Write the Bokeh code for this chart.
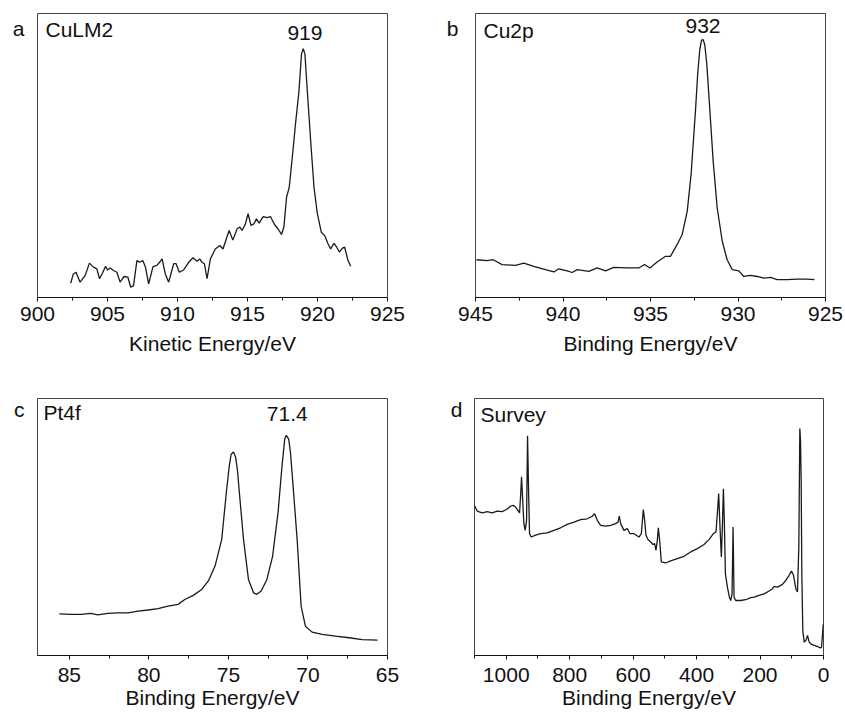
from bokeh.plotting import figure
from bokeh.models import Range1d, FixedTicker, Label, LinearAxis
from bokeh.layouts import column, row
from bokeh.embed import file_html
from bokeh.resources import INLINE

FONT = "Liberation Sans"
FS = "21px"

# ---------------- data ----------------
# (a) CuLM2, kinetic energy (eV) vs intensity (a.u.)
a_x = [902.37, 902.56, 902.75, 903.04, 903.4, 903.71, 904.0, 904.24, 904.43, 904.67, 904.86, 905.0,
       905.19, 905.43, 905.67, 905.9, 906.19, 906.45, 906.66, 906.86, 907.1, 907.29, 907.52, 907.71,
       907.94, 908.25, 908.53, 908.72, 908.9, 909.13, 909.37, 909.73, 909.9, 910.13, 910.44, 910.8,
       911.11, 911.4, 911.59, 911.75, 911.92, 912.11, 912.35, 912.7, 913.02, 913.25, 913.49, 913.69,
       913.95, 914.26, 914.45, 914.61, 914.85, 915.04, 915.25, 915.45, 915.64, 915.83, 916.12, 916.41,
       916.64, 916.93, 917.17, 917.43, 917.6, 917.79, 917.98, 918.2, 918.43, 918.67, 918.86, 918.98,
       919.1, 919.27, 919.51, 919.75, 919.99, 920.27, 920.51, 920.75, 920.94, 921.18, 921.37, 921.56,
       921.78, 921.94, 922.18, 922.37]
a_y = [5.0, 8.3, 8.9, 5.4, 7.7, 12.1, 10.7, 10.1, 6.6, 8.9, 11.0, 9.7,
       10.4, 9.5, 8.9, 5.4, 7.4, 7.2, 3.6, 4.2, 13.0, 12.4, 13.0, 10.7,
       4.8, 10.9, 11.3, 12.4, 13.6, 8.3, 5.4, 11.9, 11.9, 8.9, 9.7, 12.4,
       14.0, 12.8, 13.6, 12.4, 11.9, 6.6, 13.6, 17.1, 18.3, 17.1, 20.7, 23.6,
       20.2, 24.2, 24.8, 23.6, 25.9, 29.5, 25.4, 25.9, 27.7, 26.2, 28.5, 28.1,
       28.5, 25.7, 24.2, 22.2, 24.8, 35.3, 38.8, 49.4, 61.2, 72.3, 85.8, 87.6,
       85.8, 72.9, 55.3, 38.8, 29.5, 23.0, 21.8, 18.9, 17.1, 19.1, 17.7, 16.0,
       17.4, 17.7, 13.0, 11.0]

# (b) Cu2p, binding energy (eV)
b_x = [944.94, 944.33, 943.99, 943.48, 942.71, 942.24, 941.67, 941.0, 940.52, 940.24, 939.76, 939.48,
       939.19, 938.52, 938.05, 937.57, 937.1, 936.33, 935.67, 935.34, 935.04, 934.62, 934.14, 933.86,
       933.48, 933.19, 932.9, 932.68, 932.43, 932.3, 932.18, 932.08, 931.99, 931.9, 931.78, 931.67,
       931.42, 931.19, 930.9, 930.62, 930.33, 929.95, 929.67, 929.29, 928.9, 928.52, 928.14, 927.76,
       927.19, 926.62, 926.05, 925.63]
b_y = [13.3, 13.0, 13.3, 11.6, 11.3, 12.1, 11.0, 9.8, 9.0, 10.1, 9.4, 8.8,
       9.8, 9.2, 10.4, 9.4, 10.6, 10.4, 10.4, 11.6, 10.4, 12.5, 14.5, 14.5,
       18.6, 22.2, 30.4, 43.4, 65.8, 79.0, 87.5, 90.6, 90.8, 89.0, 82.0, 71.7,
       48.1, 31.6, 19.8, 13.3, 9.8, 9.4, 7.4, 7.8, 7.4, 6.8, 7.1, 6.3,
       6.3, 6.5, 6.5, 6.3]

# (c) Pt4f, binding energy (eV)
c_x = [85.63, 84.89, 84.26, 83.67, 83.21, 82.58, 81.95, 81.32, 80.68, 80.05, 79.42, 78.79,
       78.16, 77.74, 77.21, 76.68, 76.26, 75.84, 75.42, 75.11, 74.95, 74.83, 74.68, 74.54, 74.42,
       74.33, 74.05, 73.74, 73.42, 73.21, 72.94, 72.58, 72.22, 71.88, 71.63, 71.52, 71.46, 71.36,
       71.21, 71.1, 71.0, 70.68, 70.43, 70.16, 69.74, 69.11, 68.26, 67.42, 66.58, 65.63]
c_y = [16.2, 16.0, 16.0, 16.4, 15.8, 16.4, 16.6, 16.6, 17.3, 17.7, 18.2, 19.2,
       19.9, 21.8, 23.4, 25.7, 29.0, 34.8, 45.2, 64.7, 73.5, 78.3, 79.2, 77.0, 71.5,
       64.7, 45.2, 29.6, 24.4, 23.8, 25.1, 29.6, 38.7, 55.6, 73.8, 80.5, 84.2, 85.7,
       84.2, 79.0, 71.2, 45.2, 19.2, 11.4, 9.1, 8.2, 7.5, 6.9, 6.2, 6.0]

# (d) Survey, binding energy (eV)
d_x = [1100, 1091.6, 1075.8, 1060.0, 1044.3, 1028.5, 1012.7, 999.0, 986.4, 978.0, 970.7, 963.3,
       958.0, 954.9, 951.7, 948.6, 944.4, 940.2, 935.9, 932.8, 929.6, 926.5, 921.2, 907.6,
       891.8, 870.8, 849.7, 828.7, 807.7, 786.6, 765.6, 744.6, 728.8, 721.4, 713.0, 702.5,
       686.7, 670.9, 655.2, 647.8, 643.6, 639.4, 628.9, 618.4, 610.0, 597.3, 581.6, 574.2,
       567.9, 563.7, 559.5, 553.2, 544.8, 537.4, 532.2, 528.0, 523.8, 520.6, 516.4, 511.2,
       497.5, 481.7, 460.7, 439.7, 418.7, 397.6, 376.6, 360.8, 347.2, 338.8, 334.6, 330.4,
       326.2, 322.0, 318.8, 315.5, 312.4, 309.2, 302.9, 296.6, 292.4, 288.2, 285.0, 281.9,
       276.6, 260.8, 245.0, 229.3, 218.8, 203.0, 187.2, 171.4, 160.9, 155.6, 145.1, 129.3,
       118.8, 108.3, 100.9, 94.6, 87.2, 82.0, 77.8, 74.6, 72.5, 70.4, 68.3, 65.2,
       60.9, 55.6, 50.4, 45.1, 37.7, 29.3, 18.8, 10.4, 6.2, 3.0, 0.9]
d_y = [58.4, 56.2, 55.5, 56.0, 55.5, 56.2, 56.0, 56.8, 58.1, 58.4, 57.8, 56.5,
       55.5, 61.7, 69.5, 61.7, 51.3, 48.7, 52.6, 85.5, 64.3, 47.4, 46.1, 46.8,
       47.4, 47.7, 48.7, 49.7, 51.0, 51.9, 52.9, 53.2, 54.2, 55.2, 52.6, 50.6,
       50.3, 50.6, 51.3, 51.9, 54.2, 51.3, 48.7, 49.4, 47.4, 47.4, 46.1, 47.4,
       56.8, 52.6, 46.8, 45.1, 44.2, 43.2, 43.5, 40.9, 44.8, 49.7, 44.8, 36.4,
       36.0, 36.8, 37.7, 38.6, 40.3, 41.6, 43.2, 45.1, 47.4, 48.1, 55.2, 63.0,
       50.0, 38.3, 50.0, 64.9, 51.3, 31.8, 26.6, 22.7, 21.4, 24.0, 50.0, 22.7,
       21.4, 21.4, 21.7, 22.5, 22.7, 23.4, 24.0, 25.1, 26.0, 26.9, 26.6, 27.7,
       29.2, 31.2, 32.9, 31.2, 26.0, 24.7, 42.2, 88.3, 83.8, 68.2, 31.8, 9.7,
       5.2, 5.8, 7.8, 5.2, 4.3, 3.9, 3.5, 3.0, 3.2, 8.4, 12.1]

# axis ranges and ticks
a_range = (900, 925)
b_range = (945, 925)
c_range = (87, 65)
d_range = (1100, 0)
a_ticks = [900, 905, 910, 915, 920, 925]
a_minor = [902.5, 907.5, 912.5, 917.5, 922.5]
b_ticks = [945, 940, 935, 930, 925]
b_minor = [942.5, 937.5, 932.5, 927.5]
c_ticks = [85, 80, 75, 70, 65]
c_minor = [87.5, 82.5, 77.5, 72.5, 67.5]
d_ticks = [1000, 800, 600, 400, 200, 0]
d_minor = [1100, 900, 700, 500, 300, 100]

# texts
letters = ["a", "b", "c", "d"]
names = ["CuLM2", "Cu2p", "Pt4f", "Survey"]
xlabels = ["Kinetic Energy/eV", "Binding Energy/eV", "Binding Energy/eV", "Binding Energy/eV"]
peak_labels = ["919", "932", "71.4", None]
peak_pos = [919.1, 932.0, 71.3, None]


def make(xs, ys, xr, ticks, minor, xlabel, w, h, bl, br, bt, bb, tick_standoff, label_standoff):
    p = figure(width=w, height=h, x_range=Range1d(*xr), y_range=Range1d(0, 100),
               output_backend="svg", toolbar_location=None, y_axis_location=None,
               min_border_left=bl, min_border_right=br, min_border_top=bt, min_border_bottom=bb)
    p.line(xs, ys, line_color="#1a1a1a", line_width=1.3)
    p.grid.visible = False
    p.outline_line_color = "#444444"
    p.outline_line_width = 1
    p.outline_line_alpha = 1
    ax = p.xaxis[0]
    ax.ticker = FixedTicker(ticks=ticks, minor_ticks=minor)
    ax.axis_line_color = "#111111"
    ax.axis_line_width = 1.2
    ax.major_tick_in = 0
    ax.major_tick_out = 4
    ax.minor_tick_in = 0
    ax.minor_tick_out = 3
    ax.major_tick_line_color = "#111111"
    ax.minor_tick_line_color = "#111111"
    ax.major_label_text_font = FONT
    ax.major_label_text_font_size = FS
    ax.major_label_text_color = "#111111"
    ax.major_label_standoff = tick_standoff
    ax.axis_label = xlabel
    ax.axis_label_text_font = FONT
    ax.axis_label_text_font_size = FS
    ax.axis_label_text_font_style = "normal"
    ax.axis_label_text_color = "#111111"
    ax.axis_label_standoff = label_standoff
    p.background_fill_color = "white"
    p.border_fill_color = "white"
    return p


def letter(p, text, frame_h, pos, standoff):
    # panel letter drawn as the single tick label of a bare left axis (pixel scale)
    p.extra_y_ranges = {"px": Range1d(0, frame_h)}
    ax = LinearAxis(y_range_name="px", ticker=FixedTicker(ticks=[pos], minor_ticks=[]),
                    major_label_overrides={pos: text},
                    axis_line_color=None, major_tick_line_color=None, minor_tick_line_color=None,
                    major_tick_in=0, major_tick_out=0, minor_tick_in=0, minor_tick_out=0,
                    major_label_standoff=standoff,
                    major_label_text_font=FONT, major_label_text_font_size=FS,
                    major_label_text_color="#111111")
    p.add_layout(ax, "left")


def lab(p, x, y, text, dx, dy, align="left"):
    p.add_layout(Label(x=x, y=y, x_offset=dx, y_offset=dy, text=text,
                       text_font=FONT, text_font_size=FS, text_color="#111111",
                       text_align=align, text_baseline="middle"))


FH_TOP = 284
FH_BOT = 257

# top row: canvas 0..365 ; frame 13..297
pa = make(a_x, a_y, a_range, a_ticks, a_minor, xlabels[0], 420, 365, 37, 33, 13, 68, 5, 8)
pb = make(b_x, b_y, b_range, b_ticks, b_minor, xlabels[1], 425, 365, 55, 20, 13, 68, 5, 8)
# bottom row: canvas 365..715 ; frame 398..655
pc = make(c_x, c_y, c_range, c_ticks, c_minor, xlabels[2], 420, 350, 37, 33, 33, 60, 8, 1)
pd = make(d_x, d_y, d_range, d_ticks, d_minor, xlabels[3], 425, 350, 54, 22, 33, 60, 8, 1)

# panel letters
letter(pa, letters[0], FH_TOP, 269, 13)
letter(pb, letters[1], FH_TOP, 269, 17)
letter(pc, letters[2], FH_BOT, 246, 13)
letter(pd, letters[3], FH_BOT, 246, 12)

# names and peak labels (offsets in px from the frame top)
lab(pa, a_range[0], 100, names[0], 8, -16)
lab(pa, peak_pos[0], 100, peak_labels[0], 0, -19, "center")

lab(pb, b_range[0], 100, names[1], 8, -17)
lab(pb, peak_pos[1], 100, peak_labels[1], 0, -12, "center")

lab(pc, c_range[0], 100, names[2], 6, -14)
lab(pc, peak_pos[2], 100, peak_labels[2], 0, -15.5, "center")

lab(pd, d_range[0], 100, names[3], 6, -16)

layout = column(row(pa, pb), row(pc, pd))

with open("out.html", "w") as f:
    f.write(file_html(layout, INLINE))
